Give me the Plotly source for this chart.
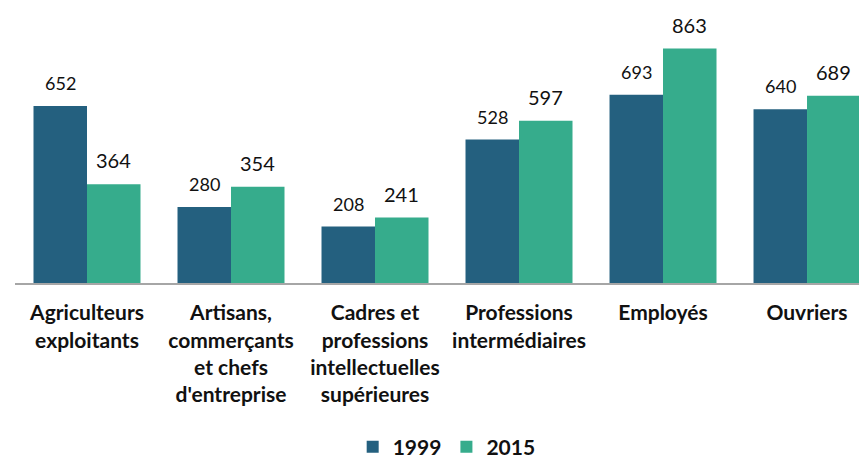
import plotly.graph_objects as go

categories = [
    "Agriculteurs<br>exploitants",
    "Artisans,<br>commerçants<br>et chefs<br>d'entreprise",
    "Cadres et<br>professions<br>intellectuelles<br>supérieures",
    "Professions<br>intermédiaires",
    "Employés",
    "Ouvriers",
]
series_names = ["1999", "2015"]
values_1999 = [652, 280, 208, 528, 693, 640]
values_2015 = [364, 354, 241, 597, 863, 689]

colors = ["#24607f", "#36ac8c"]
FONT = "Lato"

fig = go.Figure()
fig.add_trace(go.Bar(x=categories, y=values_1999, name=series_names[0],
                     marker=dict(color=colors[0], line=dict(width=0))))
fig.add_trace(go.Bar(x=categories, y=values_2015, name=series_names[1],
                     marker=dict(color=colors[1], line=dict(width=0))))

bargap = 0.257
bar_px = (1 - bargap) * 144 / 2
annotations = []
for cat, v1, v2 in zip(categories, values_1999, values_2015):
    annotations.append(dict(x=cat, y=v1, xref="x", yref="y", text=str(v1), showarrow=False,
                            xshift=-bar_px / 2, yshift=23, yanchor="middle", xanchor="center",
                            font=dict(family=FONT, size=18, color="#111111")))
    annotations.append(dict(x=cat, y=v2, xref="x", yref="y", text=str(v2), showarrow=False,
                            xshift=bar_px / 2, yshift=24, yanchor="middle", xanchor="center",
                            font=dict(family=FONT, size=20, color="#111111")))

fig.update_layout(
    width=859, height=458,
    margin=dict(l=15, r=0, t=0, b=175),
    plot_bgcolor="white", paper_bgcolor="white",
    barmode="group", bargap=bargap, bargroupgap=0,
    showlegend=True,
    legend=dict(orientation="h", xref="container", yref="container",
                x=0.520, xanchor="center", y=0.024, yanchor="middle",
                font=dict(family=FONT, size=21, color="#111111", weight="bold"),
                traceorder="normal"),
    annotations=annotations,
    font=dict(family=FONT),
)
fig.update_xaxes(range=[-0.5, 5.361], showline=True, linecolor="#a6a6a6", linewidth=2,
                 ticks="", showgrid=False, zeroline=False,
                 tickfont=dict(family=FONT, size=21, color="#111111", weight="bold"),
                 ticklabelstandoff=10, fixedrange=True)
fig.update_yaxes(range=[0, 1042], visible=False, showgrid=False, zeroline=False)

fig.write_html("out.html", config={"displayModeBar": False},
               post_script="document.body.style.margin='0';document.body.style.overflow='hidden';")
